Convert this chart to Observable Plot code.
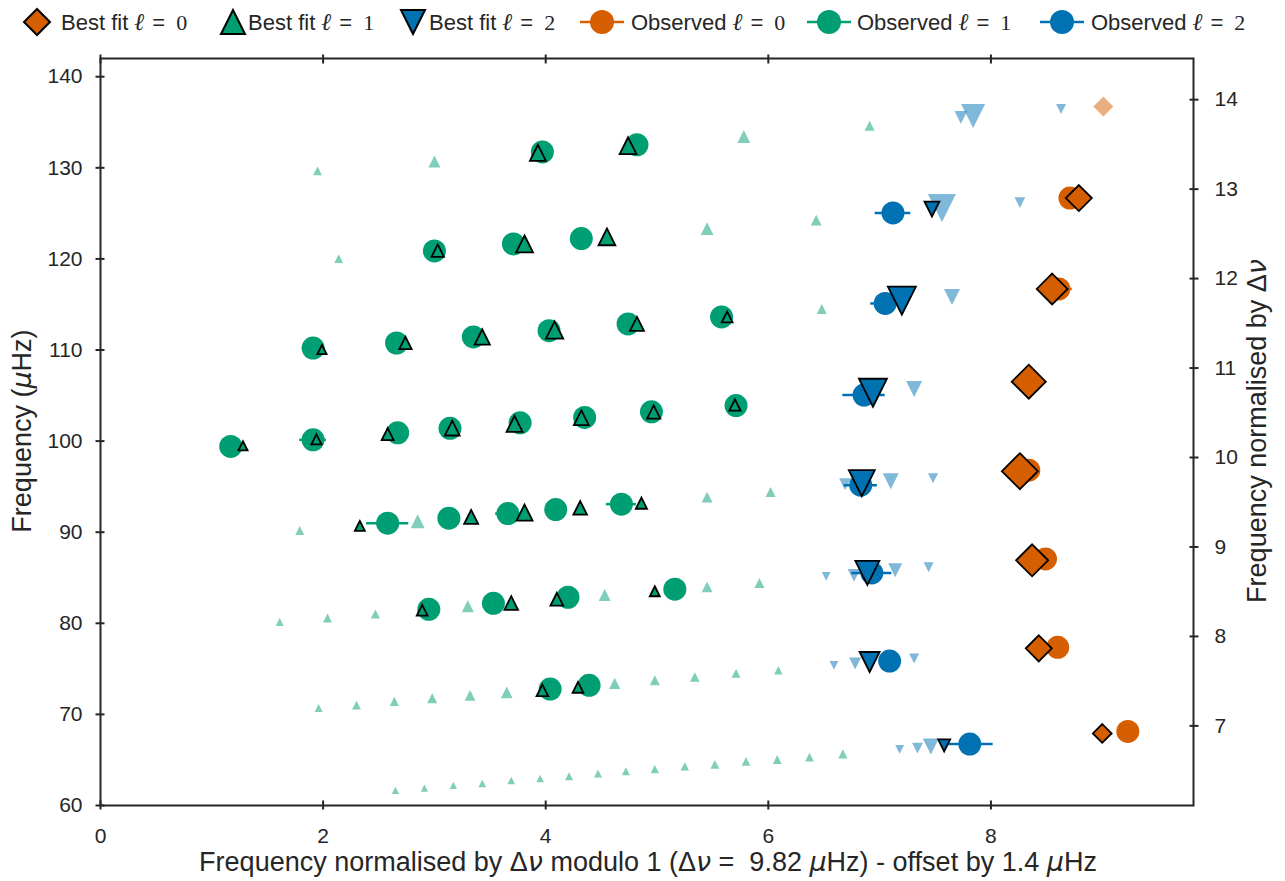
<!DOCTYPE html>
<html><head><meta charset="utf-8">
<script src="https://cdn.jsdelivr.net/npm/d3@7"></script>
<script src="https://cdn.jsdelivr.net/npm/@observablehq/plot@0.6"></script>
<style>
body{margin:0;background:#fff;}
#wrap{width:1285px;height:881px;overflow:hidden;background:#fff;}
#legend{width:1285px;height:44px;}
#legend svg, #chart svg{display:block;}
</style>
</head><body>
<div id="wrap"><div id="legend"></div><div id="chart"></div></div>
<script>
// ---------------- data ----------------
const DNU = 9.82;          // large frequency separation (μHz)
const xTicks = [0, 2, 4, 6, 8];
const yTicks = [60, 70, 80, 90, 100, 110, 120, 130, 140];
const rightTicks = [7, 8, 9, 10, 11, 12, 13, 14];   // frequency / Δν

// observed modes: [x (mod Δν), frequency μHz, x-error]
const obsL0 = [[9.23,68.13,.05],[8.60,77.36,.05],[8.49,87.07,.05],[8.34,96.81,.05],[8.61,116.70,.12],[8.71,126.68,.05]];
const obsL1 = [
  [4.04,72.78,.05],[4.39,73.19,.05],
  [2.95,81.54,.05],[3.53,82.20,.05],[4.20,82.86,.05],[5.16,83.74,.05],
  [2.58,90.99,.19],[3.13,91.54,.05],[3.66,92.05,.11],[4.09,92.49,.05],[4.68,93.08,.135],
  [1.17,99.42,.05],[1.91,100.14,.12],[2.67,100.91,.05],[3.14,101.40,.05],[3.77,102.01,.05],[4.35,102.60,.05],[4.95,103.22,.05],[5.71,103.90,.05],
  [1.91,110.22,.05],[2.66,110.77,.05],[3.35,111.43,.05],[4.03,112.12,.05],[4.74,112.86,.05],[5.58,113.63,.05],
  [3.00,120.88,.05],[3.71,121.65,.05],[4.32,122.23,.05],
  [3.97,131.74,.05],[4.82,132.53,.05]
];
const obsL2 = [[7.81,66.74,.21],[7.09,75.86,.05],[6.93,85.53,.18],[6.83,95.16,.15],[6.86,105.05,.19],[7.05,115.11,.13],[7.12,125.05,.16]];

// best-fit model modes: [x (mod Δν), frequency μHz, relative weight, matched (1) / unmatched (0)]
const fitL0 = [[9.00,67.91,.47,1],[8.43,77.25,.65,1],[8.37,86.92,.8,1],[8.26,96.70,.9,1],[8.34,106.52,.85,1],[8.55,116.70,.77,1],[8.79,126.68,.65,1],[9.01,136.74,.5,0]];
const fitL1 = [
  [2.65,61.65,.18,0],[2.91,61.90,.18,0],[3.17,62.20,.18,0],[3.43,62.42,.19,0],[3.69,62.75,.19,0],[3.95,62.97,.19,0],[4.21,63.22,.2,0],[4.47,63.52,.2,0],[4.72,63.77,.2,0],[4.98,63.99,.21,0],[5.25,64.29,.21,0],[5.52,64.51,.22,0],[5.80,64.84,.22,0],[6.08,65.05,.22,0],[6.37,65.31,.22,0],[6.67,65.66,.23,0],
  [1.96,70.69,.2,0],[2.30,71.02,.22,0],[2.64,71.43,.23,0],[2.98,71.76,.25,0],[3.32,72.09,.27,0],[3.65,72.42,.29,0],[3.97,72.64,.29,1],[4.29,72.97,.27,1],[4.62,73.41,.28,0],[4.98,73.74,.25,0],[5.34,74.10,.24,0],[5.71,74.51,.22,0],[6.09,74.84,.21,0],
  [1.61,80.14,.2,0],[2.04,80.58,.22,0],[2.47,81.02,.23,0],[2.89,81.43,.27,1],[3.30,81.87,.3,0],[3.69,82.23,.34,1],[4.10,82.64,.32,1],[4.53,83.11,.3,0],[4.98,83.52,.25,1],[5.45,83.99,.27,0],[5.92,84.43,.25,0],
  [1.79,90.19,.22,0],[2.33,90.69,.25,1],[2.85,91.21,.35,0],[3.33,91.68,.35,1],[3.81,92.16,.4,1],[4.31,92.67,.34,1],[4.86,93.19,.28,1],[5.45,93.85,.27,0],[6.02,94.40,.25,0],
  [1.28,99.48,.23,1],[1.94,100.19,.25,1],[2.58,100.77,.3,1],[3.16,101.43,.37,1],[3.72,101.90,.4,1],[4.32,102.56,.37,1],[4.97,103.19,.33,1],[5.70,103.96,.28,1],
  [1.99,110.05,.23,1],[2.74,110.77,.31,1],[3.43,111.43,.38,1],[4.08,112.20,.43,1],[4.82,112.86,.35,1],[5.63,113.63,.27,1],[6.48,114.51,.25,0],
  [2.14,120.03,.22,0],[3.03,120.91,.31,1],[3.81,121.65,.42,1],[4.55,122.42,.42,1],[5.45,123.33,.32,0],[6.43,124.26,.27,0],
  [1.95,129.67,.22,0],[3.00,130.69,.3,0],[3.93,131.65,.4,1],[4.74,132.42,.42,1],[5.78,133.44,.32,0],[6.91,134.62,.25,0]
];
const fitL2 = [
  [7.18,66.15,.22,0],[7.34,66.30,.27,0],[7.46,66.48,.4,0],[7.58,66.59,.3,1],
  [6.59,75.38,.22,0],[6.78,75.60,.3,0],[6.91,75.75,.5,1],[7.31,76.15,.25,0],
  [6.52,85.16,.22,0],[6.77,85.27,.32,0],[6.89,85.53,.6,1],[7.14,85.82,.35,0],[7.44,86.15,.25,0],
  [6.69,95.27,.3,0],[6.84,95.38,.65,1],[7.10,95.60,.4,0],[7.48,95.93,.25,0],
  [6.94,105.31,.7,1],[7.31,105.71,.4,0],
  [7.20,115.42,.7,1],[7.65,115.82,.4,0],
  [7.47,125.47,.37,1],[7.56,125.58,.7,0],[8.26,126.19,.27,0],
  [7.73,135.53,.32,0],[7.84,135.70,.6,0],[8.63,136.47,.25,0]
];

// ---------------- styles ----------------
const COLORS = ["#D55E00", "#009E73", "#0072B2"];
const INK = "#262626";
const SANS = '"Liberation Sans", Arial, Helvetica, sans-serif';
const SERIF = '"Liberation Serif", "DejaVu Serif", serif';

const symDiamond = {draw(c, s) {const r = Math.sqrt(s / Math.PI); c.moveTo(0, -r); c.lineTo(r, 0); c.lineTo(0, r); c.lineTo(-r, 0); c.closePath();}};
const symUp = {draw(c, s) {const r = Math.sqrt(s / Math.PI); c.moveTo(0, -r); c.lineTo(r, r); c.lineTo(-r, r); c.closePath();}};
const symDown = {draw(c, s) {const r = Math.sqrt(s / Math.PI); c.moveTo(0, r); c.lineTo(r, -r); c.lineTo(-r, -r); c.closePath();}};
const SYMS = [symDiamond, symUp, symDown];

const obsRows = [obsL0, obsL1, obsL2].map((a, l) => a.map(([x, y, err]) => ({x, y, err, l})));
const fitRows = [fitL0, fitL1, fitL2].map((a, l) => a.map(([x, y, w, m]) => ({x, y, w, m, l})));

const marks = [];
[0, 1, 2].forEach(l => marks.push(Plot.dot(fitRows[l].filter(d => !d.m), {x: "x", y: "y", r: "w", symbol: SYMS[l], fill: COLORS[l], fillOpacity: 0.5, stroke: "none"})));
[0, 1, 2].forEach(l => {
  marks.push(Plot.ruleY(obsRows[l], {y: "y", x1: d => d.x - d.err, x2: d => d.x + d.err, stroke: COLORS[l], strokeWidth: 2.5}));
  marks.push(Plot.dot(obsRows[l], {x: "x", y: "y", r: 11.5, fill: COLORS[l], stroke: "none"}));
});
[0, 1, 2].forEach(l => marks.push(Plot.dot(fitRows[l].filter(d => d.m), {x: "x", y: "y", r: "w", symbol: SYMS[l], fill: COLORS[l], stroke: "#000", strokeWidth: 1.8})));

const rightVals = rightTicks.map(k => k * DNU);
const blank = () => "";
marks.push(
  Plot.frame({stroke: INK, strokeWidth: 2}),
  Plot.axisY(yTicks, {anchor: "left", tickSize: 0, tickPadding: 18, label: null, fill: INK}),
  Plot.axisY(rightVals, {anchor: "right", tickSize: 0, tickPadding: 21, label: null, fill: INK, tickFormat: d => String(Math.round(d / DNU))}),
  Plot.axisX(xTicks, {anchor: "bottom", tickSize: 0, tickPadding: 23, label: null, fill: INK}),
  Plot.axisY(yTicks, {anchor: "left", tickSize: 9, dx: 4.5, tickFormat: blank, label: null, stroke: INK, strokeWidth: 2}),
  Plot.axisY(rightVals, {anchor: "right", tickSize: 9, dx: -4.5, tickFormat: blank, label: null, stroke: INK, strokeWidth: 2}),
  Plot.axisX(xTicks, {anchor: "bottom", tickSize: 9, dy: -4.5, tickFormat: blank, label: null, stroke: INK, strokeWidth: 2}),
  Plot.axisX(xTicks, {anchor: "top", tickSize: 9, dy: 4.5, tickFormat: blank, label: null, stroke: INK, strokeWidth: 2})
);

const chart = Plot.plot({
  width: 1285, height: 837,
  marginLeft: 100, marginRight: 92, marginTop: 14, marginBottom: 76,
  style: {fontFamily: SANS, fontSize: "21px", color: INK, background: "#fff", overflow: "visible"},
  x: {domain: [0, DNU], label: null},
  y: {domain: [60, 142], label: null},
  r: {type: "linear", domain: [0, 1], range: [0, 20]},
  marks
});
document.getElementById("chart").appendChild(chart);

// axis titles with italic Greek letters
const svg = d3.select(chart);
function rich(sel, parts) {
  parts.forEach(([t, it]) => {
    const ts = sel.append("tspan").text(t);
    if (it) ts.attr("font-style", "italic").attr("font-family", '"DejaVu Sans", sans-serif');
  });
  return sel;
}
const lab = svg.append("g").attr("fill", INK).attr("font-size", 27).attr("font-family", SANS).style("white-space", "pre");
rich(lab.append("text").attr("x", 648).attr("y", 827).attr("text-anchor", "middle"),
  [["Frequency normalised by Δ"], ["ν", 1], [" modulo 1 (Δ"], ["ν", 1], [" =  9.82 "], ["μ", 1], ["Hz) - offset by 1.4 "], ["μ", 1], ["Hz"]]);
rich(lab.append("text").attr("transform", "translate(31,387) rotate(-90)").attr("text-anchor", "middle"),
  [["Frequency ("], ["μ", 1], ["Hz)"]]);
rich(lab.append("text").attr("transform", "translate(1266,387) rotate(-90)").attr("text-anchor", "middle"),
  [["Frequency normalised by Δ"], ["ν", 1]]);

// legend
const legendItems = [
  {kind: "fit", l: 0, cx: 37, tx: 61, label: "Best fit ", n: "0"},
  {kind: "fit", l: 1, cx: 233, tx: 248, label: "Best fit ", n: "1"},
  {kind: "fit", l: 2, cx: 413, tx: 429, label: "Best fit ", n: "2"},
  {kind: "obs", l: 0, cx: 602, tx: 631, label: "Observed ", n: "0"},
  {kind: "obs", l: 1, cx: 829, tx: 857, label: "Observed ", n: "1"},
  {kind: "obs", l: 2, cx: 1062, tx: 1091, label: "Observed ", n: "2"}
];
const leg = d3.select("#legend").append("svg").attr("width", 1285).attr("height", 44)
  .attr("font-family", SANS).attr("font-size", 22).attr("fill", INK).style("white-space", "pre");
const cy = 22;
legendItems.forEach(it => {
  const col = COLORS[it.l];
  if (it.kind === "fit") {
    const r = it.l === 0 ? 13 : 12;
    const sym = [symDiamond, symUp, symDown][it.l];
    const p = d3.path(); sym.draw(p, Math.PI * r * r);
    leg.append("path").attr("d", p.toString()).attr("transform", `translate(${it.cx},${cy})`)
      .attr("fill", col).attr("stroke", "#000").attr("stroke-width", 2);
  } else {
    leg.append("line").attr("x1", it.cx - 22).attr("x2", it.cx + 22).attr("y1", cy).attr("y2", cy)
      .attr("stroke", col).attr("stroke-width", 2.5);
    leg.append("circle").attr("cx", it.cx).attr("cy", cy).attr("r", 12).attr("fill", col);
  }
  const t = leg.append("text").attr("x", it.tx).attr("y", cy + 8);
  t.append("tspan").text(it.label);
  t.append("tspan").text("ℓ").attr("font-style", "italic").attr("font-family", SERIF).attr("font-size", 24);
  t.append("tspan").text("=").attr("dx", 8);
  t.append("tspan").text(it.n).attr("font-family", SERIF).attr("dx", 11);
});
</script>
</body></html>
